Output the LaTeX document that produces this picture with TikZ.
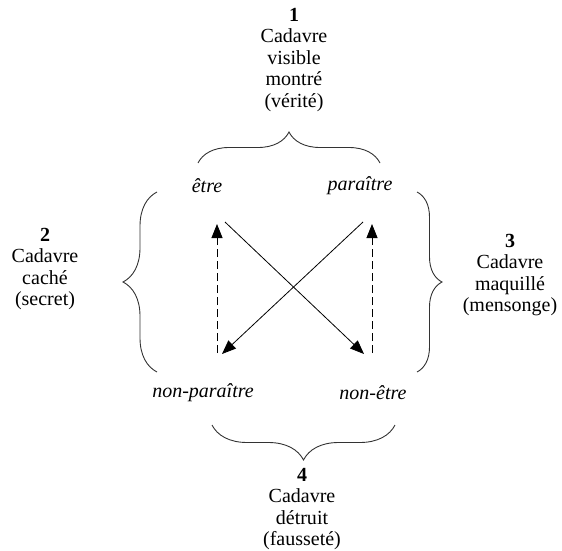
\documentclass[tikz,border=0pt]{standalone}
\usepackage{fontspec}
\setmainfont{Liberation Serif}
\usepackage{tikz}
\usetikzlibrary{arrows.meta}
\usetikzlibrary{decorations.pathreplacing}
\pgfdeclarelayer{nodelayer}
\pgfdeclarelayer{edgelayer}
\pgfsetlayers{edgelayer,nodelayer,main}
\tikzstyle{none}=[inner sep=-1pt]
\tikzset{corpse/.style={inner sep=0pt, align=center, font=\fontsize{20}{21.5}\selectfont}}
\tikzset{pole/.style={inner sep=0pt, font=\fontsize{20}{24}\selectfont\itshape}}
\tikzset{curly/.style={decorate, decoration={brace, amplitude=#1}, line width=0.9pt, draw=black!80}}
\tikzset{arr/.style={-{Triangle[length=14pt,width=11pt]}, line width=0.8pt}}

\begin{document}
\begin{tikzpicture}[x=1pt, y=-1pt]
        \useasboundingbox (0,0) rectangle (562,551);
        \begin{pgfonlayer}{nodelayer}
            \node [style=corpse] (0) at (294, 60) {{\bfseries 1}\\Cadavre\\visible\\montr\'e\\(v\'erit\'e)};
            \node [style=corpse] (1) at (45, 269) {{\bfseries 2}\\Cadavre\\cach\'e\\(secret)};
            \node [style=corpse] (2) at (510, 275) {{\bfseries 3}\\Cadavre\\maquill\'e\\(mensonge)};
            \node [style=corpse] (3) at (302, 509) {{\bfseries 4}\\Cadavre\\d\'etruit\\(fausset\'e)};
            \node [style=pole] (4) at (207, 186) {\^etre};
            \node [style=pole] (5) at (360, 186) {para\^itre};
            \node [style=pole] (6) at (203, 393) {non-para\^itre};
            \node [style=pole] (7) at (373, 393) {non-\^etre};
            \node [style=none] (8) at (217, 353) {};
            \node [style=none] (9) at (217, 224) {};
            \node [style=none] (10) at (372, 353) {};
            \node [style=none] (11) at (372, 224) {};
            \node [style=none] (12) at (225, 222) {};
            \node [style=none] (13) at (364, 354) {};
            \node [style=none] (14) at (363, 222) {};
            \node [style=none] (15) at (222, 354) {};
            \node [style=none] (16) at (198, 163) {};
            \node [style=none] (17) at (380, 163) {};
            \node [style=none] (18) at (157, 372) {};
            \node [style=none] (19) at (157, 192) {};
            \node [style=none] (20) at (417, 192) {};
            \node [style=none] (21) at (417, 372) {};
            \node [style=none] (22) at (395, 425) {};
            \node [style=none] (23) at (212, 425) {};
        \end{pgfonlayer}
        \begin{pgfonlayer}{edgelayer}
            \draw [arr, dash pattern=on 8pt off 4pt] (8.center) to (9.center);
            \draw [arr, dash pattern=on 8pt off 4pt] (10.center) to (11.center);
            \draw [arr] (12.center) to (13.center);
            \draw [arr] (14.center) to (15.center);
            \draw [curly=31] (16.center) to (17.center);
            \draw [curly=34] (18.center) to (19.center);
            \draw [curly=25] (20.center) to (21.center);
            \draw [curly=35] (22.center) to (23.center);
        \end{pgfonlayer}
    \end{tikzpicture}
\end{document}
